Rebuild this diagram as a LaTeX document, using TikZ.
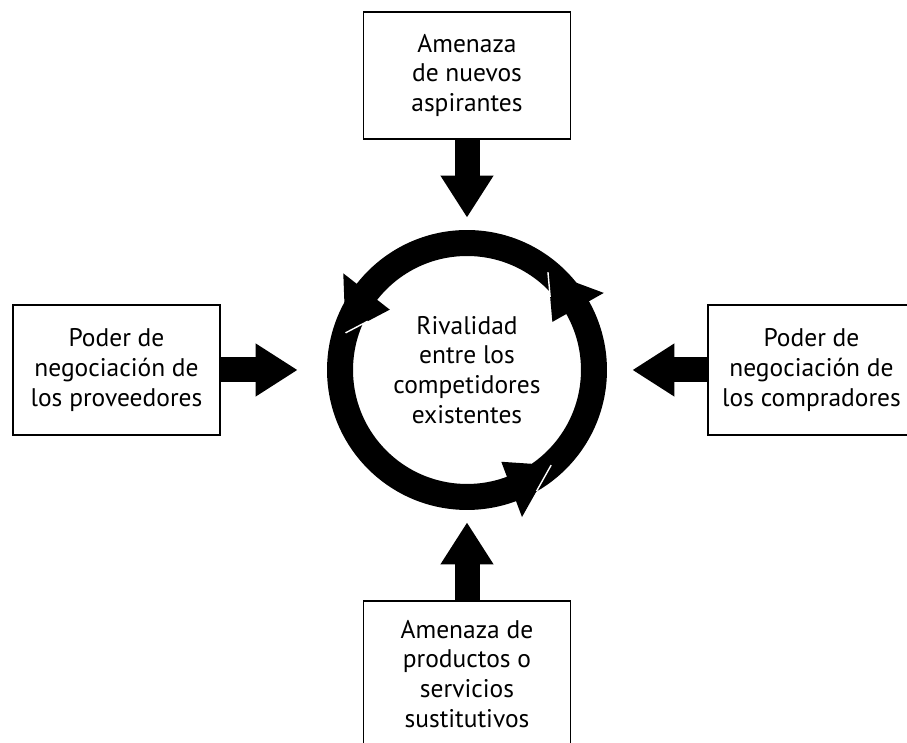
\documentclass[tikz,border=0pt]{standalone}
\usepackage{fontspec}
\setmainfont{PT Sans}
\usetikzlibrary{arrows.meta,calc}

\begin{document}
\begin{tikzpicture}[
  x=0.02cm, y=0.02cm,
  every node/.style={font=\fontsize{14.5}{17}\selectfont},
  box/.style={draw, line width=0.8pt, minimum width=4.14cm, minimum height=2.6cm,
    align=center, inner sep=0pt},
  force/.style={line width=0.5cm, -{Triangle[length=0.84cm,width=1cm]}},
  ring/.style={line width=0.52cm},
  hairline/.style={white, line width=0.8pt}
]
  \clip (0,0) rectangle (907,743);

  % Centre: rivalry ring
  \node[circle, minimum size=6.08cm, inner sep=0pt, align=center]
    at (467,373) (rivalry) {Rivalidad\\entre los\\competidores\\existentes};
  \draw[ring] (rivalry.center) circle[radius=2.54cm];

  % Heads on the ring
  \foreach \a/\s in {-48.5/157, 50.4/98, 163/98} {
    \coordinate (tip) at ($(rivalry.center)+(\a:127)$);
    \coordinate (side) at ($(rivalry.center)+(\a-21:\s)$);
    \fill ($(rivalry.center)+(\a-21:98)$) -- ($(rivalry.center)+(\a-21:157)$)
      -- (tip) -- cycle;
    \draw[hairline] (tip) -- ($(tip)!0.5!(side)$);
  }

  % The four forces
  \node[box, minimum height=2.54cm] at (467,667.5) (entrants)
    {Amenaza\\de nuevos\\aspirantes};
  \node[box] at (116.5,373) (suppliers)
    {Poder de\\negociación de\\los proveedores};
  \node[box] at (811.5,373) (buyers)
    {Poder de\\negociación de\\los compradores};
  \node[box, minimum height=2.92cm] at (467,69) (substitutes)
    {Amenaza de\\productos o\\servicios\\sustitutivos};

  % Arrows into the ring
  \draw[force] (entrants) -- (rivalry);
  \draw[force] (substitutes) -- (rivalry);
  \draw[force, shorten >=0.34cm] (suppliers) -- (rivalry);
  \draw[force, shorten >=0.26cm] (buyers) -- (rivalry);
\end{tikzpicture}
\end{document}
